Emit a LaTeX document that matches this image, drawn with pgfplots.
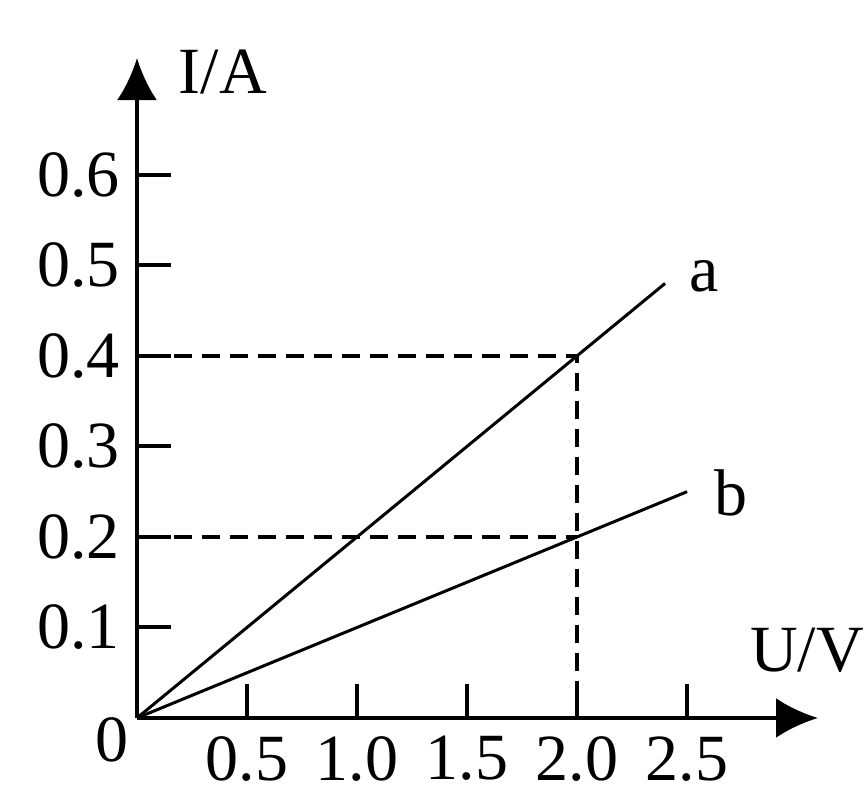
\documentclass[border=0pt]{standalone}
\usepackage{fontspec}
\setmainfont{Liberation Serif}
\usepackage{pgfplots}
\pgfplotsset{compat=1.18}
\usetikzlibrary{arrows.meta}
\begin{document}
\begin{tikzpicture}
\path[use as bounding box] (-68.5pt,-39.5pt) rectangle (365pt,359pt);
\begin{axis}[
  at={(0,0)}, anchor=south west,
  scale only axis,
  width=340.5pt, height=330pt,
  xmin=0, xmax=3.095, ymin=0, ymax=0.729,
  axis x line=bottom, axis y line=left,
  axis line style={line width=2pt, -{Latex[length=21pt,width=20pt]}},
  tick align=inside,
  major tick length=17pt,
  tick style={line width=2pt, black},
  xtick={0.5,1.0,1.5,2.0,2.5},
  xticklabels={0.5,1.0,1.5,2.0,2.5},
  ytick={0.1,0.2,0.3,0.4,0.5,0.6},
  yticklabels={0.1,0.2,0.3,0.4,0.5,0.6},
  /pgf/number format/assume math mode=true,
  tick label style={font=\fontsize{33}{38}\selectfont},
  xticklabel style={anchor=north, inner sep=0pt, yshift=-9pt},
  yticklabel style={anchor=east, inner sep=0pt, xshift=-8.5pt},
  xlabel={U/V}, ylabel={I/A},
  label style={font=\fontsize{33}{38}\selectfont},
  xlabel style={at={(axis description cs:0.984,0.103)}, anchor=center, inner sep=0pt},
  ylabel style={at={(axis description cs:0.126,0.979)}, anchor=center, rotate=-90, inner sep=0pt},
  clip=false,
]
\addplot[line width=1.5pt, black] coordinates {(0,0) (2.4,0.48)};
\addplot[line width=1.5pt, black] coordinates {(0,0) (2.5,0.25)};
\addplot[line width=1.7pt, black, dash pattern=on 9pt off 5pt] coordinates {(0.04,0.4) (2.0,0.4) (2.0,0.014)};
\addplot[line width=1.7pt, black, dash pattern=on 9pt off 5pt] coordinates {(0.04,0.2) (2.0,0.2)};
\node[font=\fontsize{33}{38}\selectfont, anchor=base] at (axis cs:2.577,0.4707) {a};
\node[font=\fontsize{33}{38}\selectfont, anchor=base] at (axis cs:2.7,0.224) {b};
\node[font=\fontsize{33}{38}\selectfont, inner sep=0pt] at ([xshift=-12.5pt,yshift=-11pt]axis cs:0,0) {0};
\end{axis}
\end{tikzpicture}
\end{document}
